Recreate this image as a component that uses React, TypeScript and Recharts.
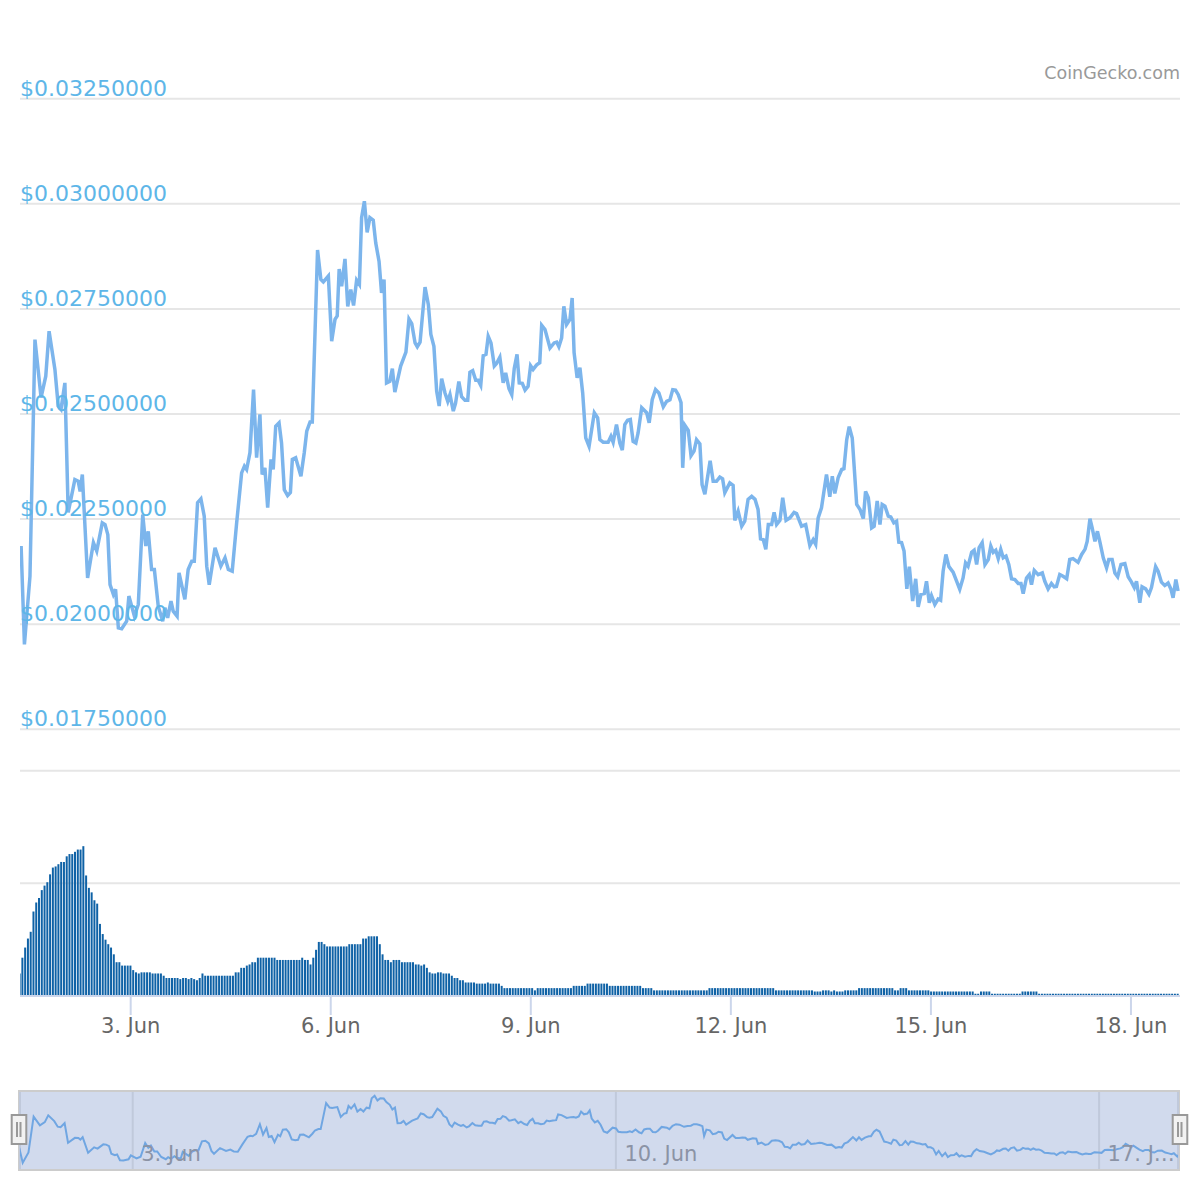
import React from "react";
import { LineChart, Line, BarChart, Bar, XAxis, YAxis, CartesianGrid } from "recharts";

// time unit: hours since the first sample (1 Jun, morning)
const priceHours = [
  0.4, 1.6, 3.6, 5.4, 7.6, 9.3, 10.5, 12.6, 13.8, 14.8, 16.2, 17.4, 19.8, 21.0, 21.7, 22.5, 24.4, 26.5, 27.7, 29.7,
  30.7, 31.7, 32.5, 33.7, 34.5, 35.5, 36.7, 38.5, 39.3, 41.3, 42.7, 44.3, 45.4, 46.3, 47.5, 48.5, 49.9, 51.5, 52.3, 53.3,
  54.5, 55.3, 56.7, 57.4, 59.5, 60.7, 62.0, 62.9, 64.1, 65.3, 66.5, 67.4, 68.3, 70.4, 72.5, 74.0, 75.2, 76.6, 78.2, 80.0,
  81.0, 81.8, 83.0, 84.3, 85.4, 86.6, 87.4, 88.4, 89.4, 90.6, 91.4, 92.3, 93.5, 94.4, 95.4, 96.6, 97.6, 98.3, 99.5, 101.4,
  102.6, 103.5, 104.7, 105.5, 107.4, 108.6, 109.5, 111.3, 112.5, 113.7, 114.5, 115.2, 116.1, 117.3, 118.3, 119.4, 120.4, 121.5, 122.5, 123.3,
  124.3, 125.3, 126.3, 127.5, 128.4, 129.6, 130.5, 131.4, 132.3, 133.5, 134.4, 135.3, 137.4, 139.3, 140.4, 141.4, 142.6, 143.4, 144.4, 146.2,
  147.4, 148.3, 149.4, 150.4, 151.3, 152.2, 153.4, 154.4, 155.2, 156.4, 157.2, 158.4, 159.4, 160.6, 161.6, 162.4, 163.4, 164.5, 165.4, 166.3,
  167.2, 168.2, 169.0, 170.0, 171.2, 172.0, 173.2, 174.4, 175.3, 176.5, 177.5, 178.4, 179.4, 180.2, 181.3, 182.3, 183.4, 184.3, 185.2, 186.5,
  187.6, 188.3, 189.5, 191.3, 192.8, 193.7, 194.5, 195.5, 196.3, 197.3, 198.5, 199.3, 200.0, 201.1, 202.1, 203.1, 204.2, 205.4, 207.3, 208.5,
  209.3, 210.5, 212.3, 213.3, 214.1, 215.3, 216.5, 217.4, 218.3, 219.3, 220.3, 221.3, 222.3, 223.1, 224.4, 226.2, 227.1, 228.2, 229.4, 230.6,
  232.2, 233.4, 234.6, 235.6, 236.6, 237.6, 238.6, 239.2, 240.0, 241.2, 242.2, 243.3, 244.2, 245.4, 246.2, 247.2, 249.1, 250.2, 251.4, 252.6,
  253.6, 254.4, 256.2, 257.4, 258.0, 259.2, 260.5, 261.6, 262.8, 264.1, 265.3, 266.4, 267.3, 268.3, 269.2, 270.1, 271.3, 272.2, 273.1, 274.3,
  275.3, 276.5, 277.9, 279.4, 280.3, 282.1, 283.6, 285.1, 286.3, 287.2, 288.1, 289.3, 291.1, 292.3, 293.2, 294.1, 295.3, 296.6, 297.4, 298.4,
  299.3, 300.4, 302.0, 303.2, 304.4, 305.2, 306.2, 307.4, 308.3, 309.4, 310.4, 311.2, 312.2, 313.4, 314.3, 315.4, 316.4, 317.2, 318.2, 319.1,
  320.1, 321.0, 322.2, 323.3, 324.2, 325.2, 326.4, 327.2, 328.2, 329.0, 330.2, 331.4, 332.3, 333.2, 334.2, 335.3, 336.8, 338.1, 339.2, 340.4,
  341.3, 342.2, 343.5, 344.4, 345.3, 346.2, 347.3, 348.3, 349.5, 350.4, 351.3, 352.2, 353.1, 354.0, 354.9, 355.9, 356.9, 357.9, 359.1, 360.3,
  361.3, 362.1, 363.3, 364.3, 365.1, 366.1, 367.5, 369.0, 369.9, 371.1, 372.3, 373.3, 374.1, 375.3, 376.5, 377.8, 378.9, 380.1, 381.9, 383.2,
  384.4, 385.2, 386.2, 387.0, 388.0, 388.9, 389.8, 391.0, 392.2, 393.0, 394.2, 395.2, 396.2, 397.4, 398.8, 400.0, 401.2, 402.2, 403.0, 404.2,
  405.0, 406.3, 407.5, 408.4, 409.9, 410.8, 412.0, 413.2, 414.4, 415.4, 416.2, 417.2, 418.0,
];

const prices = [
  0.02186, 0.01952, 0.02114, 0.02677, 0.02539, 0.0259, 0.02697, 0.02606, 0.02519, 0.02511, 0.02574, 0.02266, 0.02344, 0.0234, 0.02316, 0.02356, 0.0211, 0.02194, 0.02174, 0.02241,
  0.02237, 0.02213, 0.02094, 0.02071, 0.02083, 0.01991, 0.01989, 0.02007, 0.02067, 0.02019, 0.02047, 0.02261, 0.02186, 0.02221, 0.0213, 0.0213, 0.02043, 0.02007, 0.02039, 0.02015,
  0.02055, 0.02031, 0.02019, 0.02122, 0.02059, 0.0213, 0.0215, 0.0215, 0.02289, 0.02298, 0.02257, 0.02138, 0.02094, 0.02182, 0.02138, 0.02158, 0.0213, 0.02126, 0.02241, 0.0236,
  0.02376, 0.02368, 0.02408, 0.02558, 0.02396, 0.02499, 0.02356, 0.02372, 0.02277, 0.02392, 0.02368, 0.02471, 0.02479, 0.02431, 0.0232, 0.02306, 0.02313, 0.02392, 0.02396, 0.02352,
  0.02408, 0.02459, 0.02481, 0.02481, 0.0289, 0.0282, 0.02814, 0.02828, 0.02673, 0.02725, 0.02733, 0.02845, 0.02804, 0.02869, 0.02756, 0.02796, 0.02758, 0.02818, 0.02808, 0.02967,
  0.03006, 0.02932, 0.02967, 0.02961, 0.02907, 0.02863, 0.02788, 0.0282, 0.02574, 0.02578, 0.02608, 0.02552, 0.02614, 0.02647, 0.02726, 0.02715, 0.02669, 0.0266, 0.02671, 0.02802,
  0.0276, 0.02689, 0.02661, 0.02554, 0.02519, 0.02584, 0.0255, 0.0253, 0.02546, 0.02507, 0.02525, 0.02577, 0.02541, 0.02533, 0.02533, 0.02599, 0.02603, 0.0258, 0.0258, 0.02568,
  0.02639, 0.02642, 0.02685, 0.02669, 0.02614, 0.0262, 0.02635, 0.02574, 0.02598, 0.0256, 0.02546, 0.02608, 0.02642, 0.02574, 0.02573, 0.02557, 0.02566, 0.02615, 0.02606, 0.02617,
  0.02622, 0.02711, 0.02701, 0.02657, 0.02669, 0.02671, 0.0266, 0.02681, 0.02756, 0.02713, 0.02725, 0.02776, 0.02646, 0.02586, 0.0261, 0.0255, 0.02443, 0.02423, 0.02503, 0.02491,
  0.02439, 0.02433, 0.02433, 0.02447, 0.02433, 0.02475, 0.02431, 0.02414, 0.02475, 0.02485, 0.02487, 0.02435, 0.02431, 0.02455, 0.02515, 0.02503, 0.02479, 0.02534, 0.02558, 0.0255,
  0.02517, 0.0253, 0.02534, 0.02558, 0.02557, 0.02546, 0.02527, 0.02372, 0.02473, 0.02461, 0.02401, 0.02412, 0.02439, 0.02429, 0.02332, 0.02309, 0.02389, 0.0234, 0.0234, 0.0235,
  0.02346, 0.02313, 0.02336, 0.0233, 0.02247, 0.02269, 0.02233, 0.02245, 0.02297, 0.02304, 0.02297, 0.02273, 0.02203, 0.02201, 0.02178, 0.02237, 0.02237, 0.02266, 0.02237, 0.02247,
  0.02301, 0.02247, 0.02253, 0.02266, 0.02263, 0.02233, 0.02237, 0.02187, 0.02201, 0.0219, 0.02253, 0.02277, 0.02356, 0.02303, 0.02352, 0.02311, 0.02348, 0.02368, 0.0237, 0.02439,
  0.0247, 0.02443, 0.02285, 0.02273, 0.02251, 0.02316, 0.02301, 0.02229, 0.02233, 0.02293, 0.02237, 0.02285, 0.02281, 0.02257, 0.02255, 0.02241, 0.02245, 0.02195, 0.02194, 0.02174,
  0.02084, 0.02137, 0.02055, 0.02108, 0.02041, 0.02071, 0.02073, 0.02102, 0.02051, 0.02068, 0.02047, 0.0206, 0.02057, 0.02126, 0.02166, 0.02137, 0.02124, 0.02102, 0.02083, 0.0211,
  0.02146, 0.02138, 0.02171, 0.02176, 0.02142, 0.02182, 0.02194, 0.02142, 0.02154, 0.02186, 0.02171, 0.02176, 0.02156, 0.02178, 0.02158, 0.02162, 0.02142, 0.02108, 0.02106, 0.02097,
  0.02097, 0.02073, 0.0211, 0.02118, 0.02094, 0.02128, 0.02118, 0.02122, 0.02102, 0.02084, 0.02097, 0.02089, 0.0209, 0.02118, 0.02114, 0.02108, 0.02154, 0.02156, 0.02147, 0.02166,
  0.02178, 0.02197, 0.02251, 0.02229, 0.02197, 0.02221, 0.02195, 0.02158, 0.02134, 0.02154, 0.02154, 0.02122, 0.02113, 0.02142, 0.02144, 0.02113, 0.021, 0.02087, 0.02102, 0.02051,
  0.02089, 0.02084, 0.02071, 0.02087, 0.02137, 0.02126, 0.021, 0.02092, 0.02098, 0.02084, 0.02063, 0.02106, 0.02079,
];

// hourly volume (relative units, 100 = middle grid line), hour 0 .. 418
const volumes = [
  20, 34, 43, 51, 57, 75, 83, 87, 94, 98, 101, 108, 114, 115, 117, 119, 119, 124, 126, 126,
  128, 130, 130, 133, 107, 96, 92, 85, 82, 64, 55, 50, 46, 43, 37, 30, 30, 27, 27, 27,
  27, 23, 21, 20, 21, 21, 21, 21, 20, 20, 20, 20, 18, 16, 16, 16, 16, 16, 15, 16,
  16, 15, 16, 15, 14, 16, 20, 18, 18, 18, 18, 18, 18, 18, 18, 18, 18, 18, 21, 21,
  25, 25, 27, 28, 30, 30, 34, 34, 34, 34, 34, 34, 34, 32, 32, 32, 32, 32, 32, 32,
  32, 32, 34, 32, 32, 28, 34, 41, 48, 48, 46, 44, 44, 44, 44, 44, 44, 44, 44, 46,
  46, 46, 46, 46, 51, 51, 53, 53, 53, 53, 46, 37, 32, 32, 30, 32, 32, 32, 30, 30,
  30, 30, 30, 28, 28, 27, 28, 25, 21, 20, 20, 21, 21, 20, 20, 20, 18, 16, 16, 14,
  14, 12, 12, 12, 12, 11, 11, 11, 11, 12, 11, 11, 11, 11, 9, 7, 7, 7, 7, 7,
  7, 7, 7, 7, 7, 7, 5, 7, 7, 7, 7, 7, 7, 7, 7, 7, 7, 7, 7, 7,
  9, 9, 9, 9, 9, 11, 11, 11, 11, 11, 11, 11, 11, 9, 9, 9, 9, 9, 9, 9,
  9, 9, 9, 9, 9, 7, 7, 7, 7, 5, 5, 5, 5, 5, 5, 5, 5, 5, 5, 5,
  5, 5, 5, 5, 5, 5, 5, 5, 5, 7, 7, 7, 7, 7, 7, 7, 7, 7, 7, 7,
  7, 7, 7, 7, 7, 7, 7, 7, 7, 7, 7, 7, 7, 5, 5, 5, 5, 5, 5, 5,
  5, 5, 5, 5, 5, 5, 5, 4, 4, 4, 5, 5, 5, 4, 5, 4, 4, 4, 5, 5,
  5, 5, 5, 7, 7, 7, 7, 7, 7, 7, 7, 7, 7, 7, 7, 7, 5, 5, 7, 7,
  7, 5, 5, 5, 5, 5, 5, 5, 5, 4, 4, 4, 4, 4, 4, 4, 4, 4, 4, 4,
  4, 4, 4, 4, 4, 2, 2, 4, 4, 4, 4, 2, 2, 2, 2, 2, 2, 2, 2, 2,
  2, 2, 4, 4, 4, 4, 4, 4, 2, 2, 2, 2, 2, 2, 2, 2, 2, 2, 2, 2,
  2, 2, 2, 2, 2, 2, 2, 2, 2, 2, 2, 2, 2, 2, 2, 2, 2, 2, 2, 2,
  2, 2, 2, 2, 2, 2, 2, 2, 2, 2, 2, 2, 2, 2, 2, 2, 2, 2, 2,
];

const priceTicks = [0.0175, 0.02, 0.0225, 0.025, 0.0275, 0.03, 0.0325];
const volumeTicks = [0, 100, 200];
const dayTicks = [39.95, 112.16, 184.37, 256.58, 328.79, 401.0];
const dayLabels = ["3. Jun", "6. Jun", "9. Jun", "12. Jun", "15. Jun", "18. Jun"];
const navTicks = [39.95, 208.44, 376.93];
const navLabels = ["3. Jun", "10. Jun", "17. J\u2026"];

const priceData = priceHours.map((t, i) => ({ t, price: prices[i] }));
const volumeData = volumes.map((v, i) => ({ t: i, v }));

const FONT = "DejaVu Sans";

const PriceTick = (props: any) => {
  const { y, payload } = props;
  return (
    <text x={20} y={y - 3} fill="#5eb6e8" fontSize={22} fontFamily={FONT} textAnchor="start">
      {"$" + Number(payload.value).toFixed(8)}
    </text>
  );
};

const NAV_H = 78;
const NavTick = (props: any) => {
  const { x, index } = props;
  return (
    <text x={x + 8.5} y={NAV_H - 9} fill="#8b93a5" fontSize={21} fontFamily={FONT} textAnchor="start">
      {navLabels[index]}
    </text>
  );
};

export default function App() {
  return (
    <div style={{ position: "absolute", left: 0, top: 0, width: 1200, height: 1200, background: "#fff", fontFamily: FONT }}>
      {/* price pane */}
      <div style={{ position: "absolute", left: 0, top: 0 }}>
        <LineChart width={1200} height={760} data={priceData} margin={{ top: 98.7, right: 20, bottom: 30.7, left: 19 }}>
          <CartesianGrid vertical={false} stroke="#e6e6e6" strokeWidth={2} />
          <XAxis dataKey="t" type="number" domain={[0, 418.7]} hide allowDataOverflow />
          <YAxis
            type="number"
            domain={[0.0175, 0.0325]}
            ticks={priceTicks}
            interval={0}
            width={1}
            axisLine={false}
            tickLine={false}
            tick={<PriceTick />}
            allowDataOverflow
          />
          <Line type="linear" dataKey="price" stroke="#7cb5ec" strokeWidth={3.5} dot={false} activeDot={false} isAnimationActive={false} />
        </LineChart>
      </div>

      {/* volume pane */}
      <div style={{ position: "absolute", left: 0, top: 740 }}>
        <BarChart width={1200} height={300} data={volumeData} margin={{ top: 30.7, right: 20, bottom: 0, left: 20 }}>
          <CartesianGrid vertical={false} stroke="#e6e6e6" strokeWidth={2} />
          <XAxis
            dataKey="t"
            type="number"
            domain={[0, 418.7]}
            ticks={dayTicks}
            interval={0}
            allowDataOverflow
            height={44}
            axisLine={{ stroke: "#ccd6eb", strokeWidth: 2 }}
            tickLine={{ stroke: "#ccd6eb", strokeWidth: 2 }}
            tickSize={19}
            tickMargin={3}
            tick={{ fill: "#666666", fontSize: 21, fontFamily: FONT }}
            tickFormatter={(v: number, i: number) => dayLabels[i]}
          />
          <YAxis type="number" domain={[0, 200]} ticks={volumeTicks} hide />
          <Bar dataKey="v" fill="#0f62a6" barSize={2} isAnimationActive={false} />
        </BarChart>
      </div>

      {/* navigator */}
      <div
        style={{
          position: "absolute",
          left: 18,
          top: 1090,
          width: 1162,
          height: 81,
          boxSizing: "border-box",
          border: "2px solid #cccccc",
          background: "#d1daed",
        }}
      />
      <div style={{ position: "absolute", left: 0, top: 1092 }}>
        <LineChart width={1200} height={NAV_H} data={priceData} margin={{ top: 0, right: 22, bottom: 0, left: 20 }}>
          <CartesianGrid horizontal={false} stroke="#c0c9db" strokeWidth={2} />
          <XAxis
            dataKey="t"
            type="number"
            domain={[0.65, 404.45]}
            ticks={navTicks}
            interval={0}
            allowDataOverflow
            height={1}
            axisLine={false}
            tickLine={false}
            tick={<NavTick />}
          />
          <YAxis type="number" domain={[0.01854, 0.03064]} hide allowDataOverflow />
          <Line type="linear" dataKey="price" stroke="#70a6e2" strokeWidth={2} dot={false} activeDot={false} isAnimationActive={false} />
        </LineChart>
      </div>

      {/* decorations: credit and navigator handles */}
      <svg width={1200} height={1200} style={{ position: "absolute", left: 0, top: 0, pointerEvents: "none" }}>
        <text x={1180} y={79} textAnchor="end" fill="#999999" fontSize={17.5} fontFamily={FONT}>
          CoinGecko.com
        </text>
        <g>
          <rect x={11.7} y={1115} width={14.6} height={29} fill="#f2f2f2" stroke="#999999" strokeWidth={2} />
          <line x1={17} y1={1122} x2={17} y2={1137} stroke="#999999" strokeWidth={2} />
          <line x1={20.5} y1={1122} x2={20.5} y2={1137} stroke="#999999" strokeWidth={2} />
        </g>
        <g>
          <rect x={1172.7} y={1115} width={14.6} height={29} fill="#f2f2f2" stroke="#999999" strokeWidth={2} />
          <line x1={1178} y1={1122} x2={1178} y2={1137} stroke="#999999" strokeWidth={2} />
          <line x1={1181.5} y1={1122} x2={1181.5} y2={1137} stroke="#999999" strokeWidth={2} />
        </g>
      </svg>
    </div>
  );
}
